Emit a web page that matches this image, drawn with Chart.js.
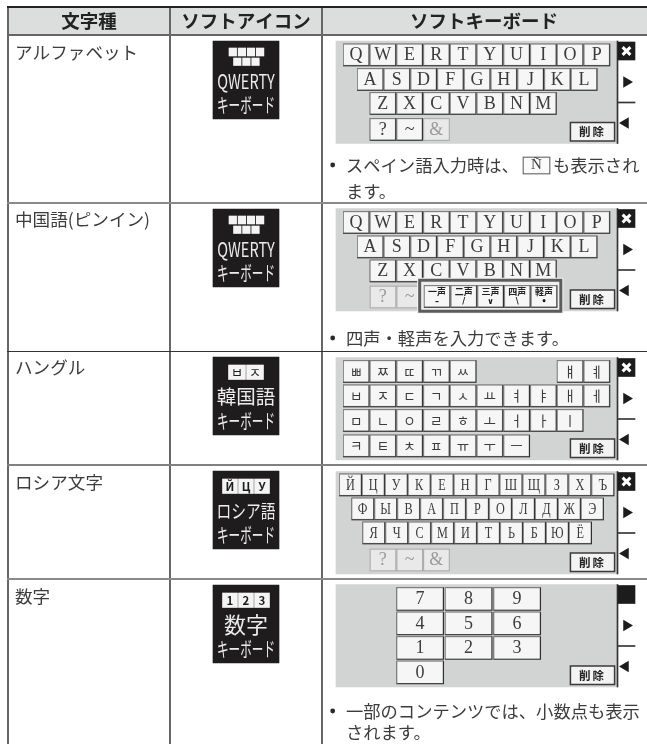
<!DOCTYPE html>
<html>
<head>
<meta charset="utf-8">
<style>
html, body { margin: 0; padding: 0; background: #fff; }
canvas { display: block; }
</style>
<script src="https://cdn.jsdelivr.net/npm/chart.js@4"></script>
</head>
<body>
<canvas id="table_canvas" width="647" height="744"></canvas>
<script>
// table content
const headers = ['文字種', 'ソフトアイコン', 'ソフトキーボード'];
const categories = ['アルファベット', '中国語(ピンイン)', 'ハングル', 'ロシア文字', '数字'];

const qwertyRows = [
	['Q', 'W', 'E', 'R', 'T', 'Y', 'U', 'I', 'O', 'P'],
	['A', 'S', 'D', 'F', 'G', 'H', 'J', 'K', 'L'],
	['Z', 'X', 'C', 'V', 'B', 'N', 'M'],
];
const symbolKeys = ['?', '~', '&'];
const toneNames = ['一声', '二声', '三声', '四声', '軽声'];
const toneMarks = ['–', '/', '∨', '\\', '•'];
const hangulRows = [
	['ㅃ', 'ㅉ', 'ㄸ', 'ㄲ', 'ㅆ', '', '', '', 'ㅒ', 'ㅖ'],
	['ㅂ', 'ㅈ', 'ㄷ', 'ㄱ', 'ㅅ', 'ㅛ', 'ㅕ', 'ㅑ', 'ㅐ', 'ㅔ'],
	['ㅁ', 'ㄴ', 'ㅇ', 'ㄹ', 'ㅎ', 'ㅗ', 'ㅓ', 'ㅏ', 'ㅣ'],
	['ㅋ', 'ㅌ', 'ㅊ', 'ㅍ', 'ㅠ', 'ㅜ', 'ㅡ'],
];
const russianRows = [
	['Й', 'Ц', 'У', 'К', 'Е', 'Н', 'Г', 'Ш', 'Щ', 'З', 'Х', 'Ъ'],
	['Ф', 'Ы', 'В', 'А', 'П', 'Р', 'О', 'Л', 'Д', 'Ж', 'Э'],
	['Я', 'Ч', 'С', 'М', 'И', 'Т', 'Ь', 'Б', 'Ю', 'Ё'],
];
const numberRows = [['7', '8', '9'], ['4', '5', '6'], ['1', '2', '3'], ['0']];
const deleteLabel = '削除';

const noteAlphabet = ['スペイン語入力時は、', 'も表示され', 'ます。'];
const noteAlphabetKey = 'Ñ';
const notePinyin = '四声・軽声を入力できます。';
const noteNumbers = ['一部のコンテンツでは、小数点も表示', 'されます。'];

const iconBoxes = [[], [], ['ㅂ', 'ㅈ'], ['Й', 'Ц', 'У'], ['1', '2', '3']];
const iconTitles = ['QWERTY', 'QWERTY', '韓国語', 'ロシア語', '数字'];
const iconFooter = 'キーボード';

// layout, in page pixels (the scales run 1:1 with the canvas)
const rowTops = [7, 35, 203, 351, 465, 579];
const columnEdges = [8, 170, 322];
const panelTops = [41, 208.5, 357.5, 471.5, 584.5];
const iconTops = [41, 209, 357, 471, 585];
const labelYs = [52, 219, 367, 482, 596];

const TEXT = '#3c3c3c';
const sans = '"Noto Sans CJK JP", "Noto Sans", sans-serif';
const serif = '"Liberation Serif", "DejaVu Serif", serif';

const datasets = [];
const labels = [];

function AddBars(items, width, color, extra) {
	datasets.push(Object.assign({
		data: items.map(b => ({ x: b.x, y: [b.top, b.bottom] })),
		backgroundColor: color,
		barThickness: width,
		grouped: false,
		borderWidth: 0,
		borderSkipped: false,
	}, extra || {}));
}

function AddPoints(points, style, radius, color, extra) {
	datasets.push(Object.assign({
		type: 'scatter',
		data: points,
		pointStyle: style,
		pointRadius: radius,
		backgroundColor: color,
		borderColor: color,
		borderWidth: 0,
	}, extra || {}));
}

function AddLabel(text, x, y, font, options) {
	labels.push(Object.assign({ text, x, y, font, color: TEXT, align: 'center', squeeze: 1 }, options || {}));
}

function Box(left, top, width, height) {
	return { x: left + width / 2, top, bottom: top + height };
}

// a soft key is a dark edge with a lighter face on top of it
function AddKeys(keys, width, height, face) {
	const edges = keys.map(k => Box(k.left, k.top, width, height));
	const lights = keys.map(k => Box(k.left, k.top, width - 1, height - 1));
	const faces = keys.map(k => Box(k.left + 1, k.top + 1, width - 2.4, height - 2.4));
	AddBars(edges, width, '#2e2e2e');
	AddBars(lights, width - 1, '#8c8c8c');
	AddBars(faces, width - 2.4, face || '#f6f6f6');
}

function AddDimKeys(keys, width, height) {
	AddBars(keys.map(k => Box(k.left, k.top, width, height)), width, '#a8a8a8');
	AddBars(keys.map(k => Box(k.left + 1, k.top + 1, width - 2, height - 2)), width - 2, '#e9e9e9');
}

function AddPanel(top, hideClose) {
	AddBars([Box(336, top, 281, 102.5)], 281, '#d2d3d3');
	AddBars([Box(617, top, 1, 102.5)], 1, '#333333');
	AddBars([Box(618, top + 1, 17, 18)], 17, '#1c1c1c');
	AddBars([Box(618, top + 61, 17, 1)], 17, '#333333');
	if (!hideClose) {
		AddPoints([{ x: 626.5, y: top + 10 }], 'crossRot', 5.5, '#ffffff', { borderWidth: 3 });
	}
	AddPoints([{ x: 626.5, y: top + 41 }], 'triangle', 6.5, '#1c1c1c', { rotation: 90 });
	AddPoints([{ x: 625.5, y: top + 82 }], 'triangle', 6.5, '#1c1c1c', { rotation: -90 });
	// delete key
	AddBars([Box(570, top + 81, 45, 19.5)], 45, '#3a3a3a');
	AddBars([Box(571.5, top + 82.5, 42, 16.5)], 42, '#f3f3f3');
	AddLabel(deleteLabel, 592.5, top + 91, `700 11.5px ${sans}`, { color: '#222', spacing: '2px' });
}

function AddQwerty(top) {
	const rowOffsets = [3, 27.5, 51.5];
	const rowLefts = [343.3, 357.3, 370];
	qwertyRows.forEach((row, r) => {
		const keys = row.map((c, i) => ({ left: rowLefts[r] + i * 26.74, top: top + rowOffsets[r] }));
		AddKeys(keys, 26, 22);
		row.forEach((c, i) => AddLabel(c, keys[i].left + 12.8, keys[i].top + 11.5, `18px ${serif}`));
	});
}

function AddSymbols(top, dimFrom, count) {
	const normal = [];
	const dim = [];
	symbolKeys.slice(0, count).forEach((c, i) => {
		const key = { left: 370 + i * 26.74, top: top + 77.5 };
		(i >= dimFrom ? dim : normal).push(key);
		AddLabel(c, key.left + 12.8, key.top + 11.5, `18px ${serif}`, { color: i >= dimFrom ? '#9a9a9a' : TEXT });
	});
	if (normal.length) AddKeys(normal, 26, 22);
	if (dim.length) AddDimKeys(dim, 26, 22);
}

function AddIcon(index) {
	const top = iconTops[index];
	AddBars([Box(213, top, 66, 78)], 66, '#1e1c1c');
	const title = iconTitles[index];
	if (title === 'QWERTY') {
		AddBars([0, 1, 2, 3].map(i => Box(229 + i * 9.1, top + 7, 7.6, 8)), 7.6, '#f4f4f4');
		AddBars([0, 1, 2].map(i => Box(233.5 + i * 9.1, top + 17, 7.6, 7.5)), 7.6, '#f4f4f4');
		AddLabel(title, 246, top + 40, `20.5px ${sans}`, { color: '#ececec', squeeze: 0.71 });
	} else {
		const boxes = iconBoxes[index];
		const width = boxes.length === 2 ? 17 : 15;
		const start = 246 - (boxes.length * width + (boxes.length - 1)) / 2;
		AddBars(boxes.map((b, i) => Box(start + i * (width + 1), top + 8, width, 14.5)), width, '#f4f4f4');
		boxes.forEach((b, i) => {
			const font = boxes.length === 2 ? `13px "Noto Sans CJK KR"` : `700 11.5px ${sans}`;
			AddLabel(b, start + i * (width + 1) + width / 2, top + 15.5, font, { color: '#1e1c1c' });
		});
		if (title === '韓国語') AddLabel(title, 246, top + 40, `19.5px ${sans}`, { color: '#ececec' });
		if (title === 'ロシア語') AddLabel(title, 246, top + 40, `18.5px ${sans}`, { color: '#ececec', squeeze: 0.8 });
		if (title === '数字') AddLabel(title, 246, top + 40, `22px ${sans}`, { color: '#ececec' });
	}
	AddLabel(iconFooter, 246, top + 64, `20px ${sans}`, { color: '#ececec', squeeze: 0.58 });
}

function AddBullet(y) {
	AddPoints([{ x: 332.7, y }], 'circle', 2.4, '#2a2a2a');
}

function BuildTable() {
	// header band
	AddBars([Box(8, 8, 639, 26.5)], 639, '#dcdddd');
	const headerCenters = [89, 246, 484];
	headers.forEach((h, i) => AddLabel(h, headerCenters[i], 21, `700 18.5px ${sans}`, { color: '#222' }));

	categories.forEach((c, i) => {
		AddLabel(c, 15, labelYs[i], `17.6px ${sans}`, { align: 'left' });
		AddIcon(i);
	});

	// alphabet
	AddPanel(panelTops[0]);
	AddQwerty(panelTops[0]);
	AddSymbols(panelTops[0], 2, 3);
	AddBullet(165);
	AddLabel(noteAlphabet[0], 346, 165, `17.3px ${sans}`, { align: 'left' });
	AddBars([Box(523, 157, 27, 17)], 27, '#555555');
	AddBars([Box(524, 158, 25, 15)], 25, '#fbfbfb');
	AddLabel(noteAlphabetKey, 536.5, 165.5, `15px ${serif}`);
	AddLabel(noteAlphabet[1], 553, 165, `17.3px ${sans}`, { align: 'left' });
	AddLabel(noteAlphabet[2], 346, 191.5, `17.3px ${sans}`, { align: 'left' });

	// pinyin
	const pinyinTop = panelTops[1];
	AddPanel(pinyinTop);
	AddQwerty(pinyinTop);
	AddSymbols(pinyinTop, 0, 2);
	AddBars([Box(417.5, pinyinTop + 69.5, 145.5, 35.5)], 145.5, '#f4f4f4');
	AddBars([Box(418.5, pinyinTop + 70.5, 143.5, 33.5)], 143.5, '#5c5c5c');
	AddBars([Box(421.5, pinyinTop + 73.5, 137.5, 27.5)], 137.5, '#eeeeee');
	const toneKeys = toneNames.map((t, i) => ({ left: 424.2 + i * 26.74, top: pinyinTop + 77 }));
	AddKeys(toneKeys, 26, 22);
	toneNames.forEach((t, i) => {
		AddLabel(t, toneKeys[i].left + 12.8, toneKeys[i].top + 6, `700 9px ${sans}`, { color: '#222' });
		AddLabel(toneMarks[i], toneKeys[i].left + 12.8, toneKeys[i].top + 16, `700 8px "DejaVu Sans"`, { color: '#111' });
	});
	AddBullet(338);
	AddLabel(notePinyin, 346, 338, `17.3px ${sans}`, { align: 'left' });

	// hangul
	const hangulTop = panelTops[2];
	const hangulOffsets = [3, 27.5, 52, 77.5];
	AddPanel(hangulTop);
	hangulRows.forEach((row, r) => {
		const cells = row.map((c, i) => ({ c, left: 343.3 + i * 26.74, top: hangulTop + hangulOffsets[r] })).filter(k => k.c);
		AddKeys(cells, 26, 22);
		cells.forEach(k => AddLabel(k.c, k.left + 12.8, k.top + 11, `13.5px "Noto Sans CJK KR"`));
	});

	// russian
	const russianTop = panelTops[3];
	const russianOffsets = [2.5, 26.5, 50.5];
	const russianLefts = [339.3, 351.7, 362.7];
	AddPanel(russianTop);
	russianRows.forEach((row, r) => {
		const keys = row.map((c, i) => ({ left: russianLefts[r] + i * 22.95, top: russianTop + russianOffsets[r] }));
		AddKeys(keys, 22.4, 22);
		row.forEach((c, i) => AddLabel(c, keys[i].left + 11, keys[i].top + 11.5, `17px ${serif}`, { squeeze: 0.72 }));
	});
	AddSymbols(russianTop, 0, 3);

	// numbers
	const numberTop = panelTops[4];
	const numberOffsets = [3, 27.5, 52, 76.5];
	AddPanel(numberTop, true);
	numberRows.forEach((row, r) => {
		const keys = row.map((c, i) => ({ left: 396.7 + i * 48.5, top: numberTop + numberOffsets[r] }));
		AddKeys(keys, 47, 23);
		row.forEach((c, i) => AddLabel(c, keys[i].left + 23.2, keys[i].top + 12, `18px ${serif}`));
	});
	AddBullet(711);
	AddLabel(noteNumbers[0], 346, 711, `17.3px ${sans}`, { align: 'left' });
	AddLabel(noteNumbers[1], 346, 732, `17.3px ${sans}`, { align: 'left' });
}

BuildTable();

const textPlugin = {
	id: 'tableText',
	afterDatasetsDraw(chart) {
		const { ctx, scales } = chart;
		ctx.save();
		ctx.textBaseline = 'middle';
		labels.forEach(l => {
			const px = scales.x.getPixelForValue(l.x);
			const py = scales.y.getPixelForValue(l.y);
			ctx.save();
			ctx.font = l.font;
			ctx.fillStyle = l.color;
			ctx.textAlign = l.align;
			ctx.letterSpacing = l.spacing || '0px';
			ctx.translate(px, py);
			ctx.scale(l.squeeze, 1);
			ctx.fillText(l.text, 0, 0);
			ctx.restore();
		});
		ctx.restore();
	}
};

const rowLineColors = ['#222222', '#666666', '#8a8a8a', '#333333', '#808080', '#8a8a8a'];
const rowLineWidths = [2, 2, 2, 1, 2, 2];

// first dataset is painted last, so flip the build order
new Chart(window.table_canvas.getContext('2d'), {
	type: 'bar',
	data: { datasets: datasets.reverse() },
	plugins: [textPlugin],
	options: {
		responsive: false,
		animation: false,
		events: [],
		// autoPadding would add room for the scatter points and break the 1:1 scales
		layout: { autoPadding: false, padding: { left: 7, top: 6, right: 0, bottom: 0 } },
		plugins: { legend: { display: false }, tooltip: { enabled: false } },
		scales: {
			x: {
				type: 'linear', min: 7, max: 647, offset: false,
				border: { display: false },
				ticks: { display: false },
				afterBuildTicks: axis => { axis.ticks = columnEdges.map(value => ({ value })); },
				grid: {
					offset: false, drawTicks: false, z: 1,
					color: '#666666', lineWidth: 2,
				},
			},
			y: {
				type: 'linear', min: 6, max: 744, reverse: true,
				border: { display: false },
				ticks: { display: false },
				afterBuildTicks: axis => { axis.ticks = rowTops.map(value => ({ value })); },
				grid: {
					drawTicks: false, z: 1,
					color: c => rowLineColors[c.index],
					lineWidth: c => rowLineWidths[c.index],
				},
			},
		},
	},
});
</script>
</body>
</html>
